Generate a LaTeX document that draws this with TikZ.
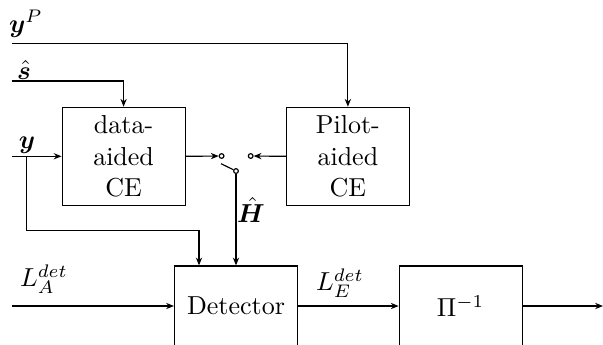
\documentclass[tikz,border=0pt]{standalone}
\usepackage{bm}
\usetikzlibrary{arrows.meta}
\begin{document}
\begin{tikzpicture}[x=0.3846pt,y=-0.3846pt,
  block/.style={draw,line width=0.45pt,minimum width=47.3pt,align=center,inner sep=0pt},
  conn/.style={line width=0.45pt},
  arr/.style={conn,-{Stealth[length=3pt,width=2.4pt]}},
  port/.style={circle,draw,line width=0.45pt,inner sep=0pt,minimum size=1.8pt},
  lbl/.style={inner sep=0pt}]
  \useasboundingbox (0,0) rectangle (603,344);
  \clip (0,0) rectangle (603,344);

  % processing blocks
  \node[block,minimum height=37.7pt] (data)  at (123.6,156.3) {data-\\aided\\CE};
  \node[block,minimum height=37.7pt] (pilot) at (347.9,156.3) {Pilot-\\aided\\CE};
  \node[block,minimum height=30.8pt] (det)   at (236,306) {Detector};
  \node[block,minimum height=30.8pt] (deint) at (460.7,306) {$\Pi^{-1}$};

  % switch contacts
  \node[port] (swl) at (221.6,156) {};
  \node[port] (swr) at (250.7,156) {};
  \node[port] (piv) at (236,171) {};
  \coordinate (lever) at (221,163.7);

  % input and output ends
  \coordinate (ypin) at (11.7,43.5);
  \coordinate (sin)  at (11.7,81);
  \coordinate (yin)  at (11.7,156.3);
  \coordinate (ybr)  at (26.7,156.3);
  \coordinate (lain) at (11.7,306);
  \coordinate (out)  at (603,306);

  % signal labels
  \node[lbl] (lyp) at (26,24)   {$\bm{y}^P$};
  \node[lbl] (ls)  at (24,70)   {$\hat{\bm{s}}$};
  \node[lbl] (ly)  at (27,145)  {$\bm{y}$};
  \node[lbl] (lh)  at (251,210) {$\hat{\bm{H}}$};
  \node[lbl] (la)  at (44,279)  {$L_A^{det}$};
  \node[lbl] (le)  at (340,283) {$L_E^{det}$};

  % connectors
  \draw[arr] (ypin) -| (pilot.north);
  \draw[arr] (sin) -| (data.north);
  \draw[arr] (yin) -- (data.west);
  \draw[arr] (ybr) |- (199,230.7) -- (det.north -| 199,0);
  \draw[arr] (data.east) -- (swl);
  \draw[arr] (pilot.west) -- (swr);
  \draw[conn] (piv) -- (lever);
  \draw[arr] (piv) -- (det.north);
  \draw[arr] (lain) -- (det.west);
  \draw[arr] (det.east) -- (deint.west);
  \draw[arr] (deint.east) -- (out);
\end{tikzpicture}
\end{document}
